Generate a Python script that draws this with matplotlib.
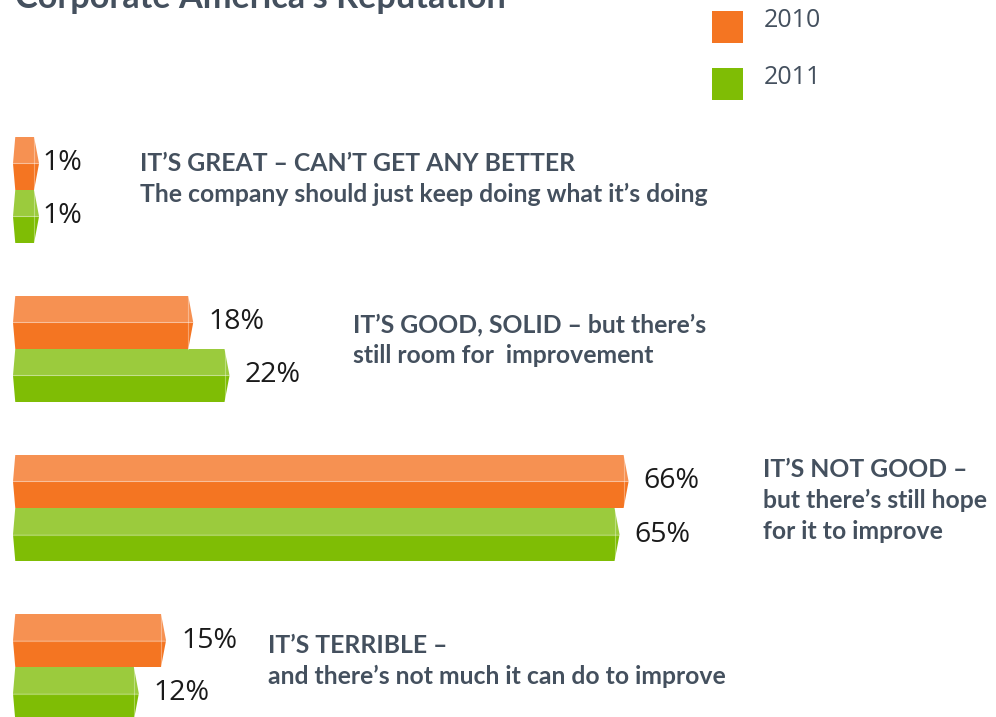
import matplotlib.pyplot as plt
from matplotlib.patches import Polygon, Rectangle

years = ["2010", "2011"]
values_2010 = [1, 18, 66, 15]
values_2011 = [1, 22, 65, 12]
descriptions = [
    ["IT\u2019S GREAT \u2013 CAN\u2019T GET ANY BETTER",
     "The company should just keep doing what it\u2019s doing"],
    ["IT\u2019S GOOD, SOLID \u2013 but there\u2019s",
     "still room for  improvement"],
    ["IT\u2019S NOT GOOD \u2013", "but there\u2019s still hope", "for it to improve"],
    ["IT\u2019S TERRIBLE \u2013", "and there\u2019s not much it can do to improve"],
]
title = "Corporate America\u2019s Reputation"

# layout (pixels converted to data units below)
PX = 9.07          # pixels per percent
X0PX = 25          # pixel of 0 %
GAP = 159          # pixels between groups
desc_x_px = [140, 353, 763, 268]
desc_first_baseline = [-19, -17, -31, -14]   # pixels from group centre
line_step = 31

light = {"2010": "#F69152", "2011": "#9BCB3D"}
dark = {"2010": "#F47522", "2011": "#7FBD05"}
text_col = "#44505E"

fig = plt.figure(figsize=(9.96, 7.17), dpi=100)
ax = fig.add_axes([0, 0, 1, 1])
ax.set_xlim(-X0PX / PX, (996 - X0PX) / PX)
ax.set_ylim((717 - 190) / GAP, -190 / GAP)
ax.axis("off")


def px_x(p):
    return (p - X0PX) / PX


def px_y(p):
    return (p - 190) / GAP


h = 53 / GAP
x0 = px_x(13)
cl, cr = 0.25, 0.55


def draw_bar(v, yt, yb, year):
    ym = (yt + yb) / 2
    top = [(x0 + cl, yt), (v, yt), (v + cr, ym), (x0, ym)]
    bot = [(x0, ym), (v + cr, ym), (v, yb), (x0 + cl, yb)]
    ax.add_patch(Polygon(top, closed=True, fc=light[year], ec="none"))
    ax.add_patch(Polygon(bot, closed=True, fc=dark[year], ec="none"))
    ax.plot([x0, v + cr], [ym, ym], color="white", lw=0.8, alpha=0.35)
    ax.plot([v, v], [yt, yb], color="white", lw=0.8, alpha=0.35)


for i, (a, b) in enumerate(zip(values_2010, values_2011)):
    draw_bar(a, i - h, i, "2010")
    draw_bar(b, i, i + h, "2011")
    for v, yc in ((a, i - h / 2), (b, i + h / 2)):
        lx = v + 2.2 if v > 1 else px_x(42)
        ax.text(lx, yc, f"{v}%", fontsize=20.5, family="Open Sans",
                color="#1a1a1a", va="center", ha="left")
    for k, line in enumerate(descriptions[i]):
        yy = i + (desc_first_baseline[i] + k * line_step) / GAP
        ax.text(px_x(desc_x_px[i]), yy, line, fontsize=17.8, family="Lato",
                fontweight="bold", color=text_col, va="baseline", ha="left")

# title, cut off at the top
ax.text(px_x(15), px_y(8), title, fontsize=24.7, family="Lato",
        fontweight="bold", color=text_col, va="baseline", ha="left")

# legend
for k, yr in enumerate(years):
    yc = px_y(27 + 57 * k)
    ax.add_patch(Rectangle((px_x(712), yc - 16 / GAP), 31 / PX, 32 / GAP,
                           fc=dark[yr], ec="none"))
    ax.text(px_x(764), yc - 6 / GAP, yr, fontsize=18, family="Open Sans",
            color=text_col, va="center", ha="left")

fig.savefig("out.png", dpi=100)
